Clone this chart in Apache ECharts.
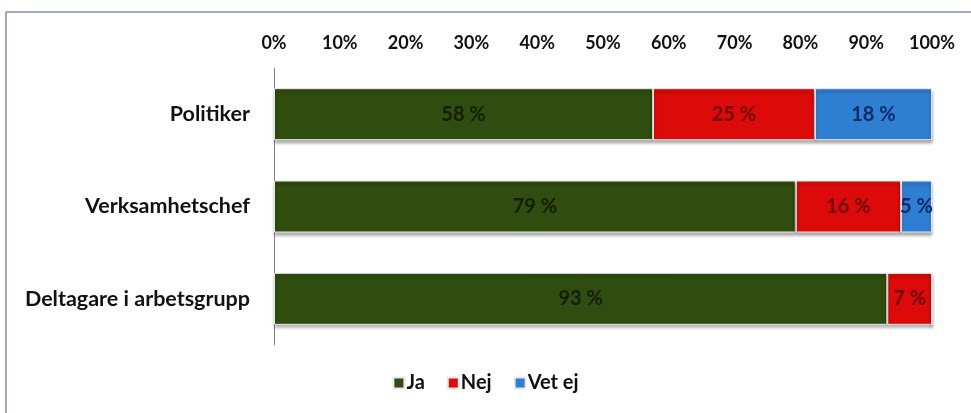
<!DOCTYPE html>
<html>
<head>
<meta charset="utf-8">
<script src="https://cdn.jsdelivr.net/npm/echarts@6/dist/echarts.min.js"></script>
<style>html,body{margin:0;padding:0;background:#fff}#c{width:971px;height:413px}</style>
</head>
<body>
<div id="c"></div>
<script>
const categories = ['Politiker', 'Verksamhetschef', 'Deltagare i arbetsgrupp'];
const ja = [57.6, 79.3, 93.2];
const nej = [24.6, 16.0, 6.8];
const vetEj = [17.8, 4.7, 0];
const seriesNames = ['Ja', 'Nej', 'Vet ej'];
const xTicks = [0, 10, 20, 30, 40, 50, 60, 70, 80, 90, 100];

const FONT = 'Lato';
const colors = ['#2f4d0f', '#dd0a0a', '#2e7fd2'];
const labelColors = ['#141d06', '#6e0404', '#0c2a66'];

function mkSeries(name, data, i) {
  return {
    name: name,
    type: 'bar',
    stack: 'total',
    barWidth: 52,
    data: data,
    itemStyle: {
      color: colors[i],
      borderColor: '#e8e8e8',
      borderWidth: 1,
      shadowColor: 'rgba(0,0,0,0.35)',
      shadowBlur: 3,
      shadowOffsetY: 3
    },
    label: {
      show: true,
      position: 'inside',
      formatter: p => p.value > 0 ? Math.round(p.value) + ' %' : '',
      color: labelColors[i],
      fontFamily: FONT,
      fontWeight: 'bold',
      fontSize: 20
    }
  };
}

const chart = echarts.init(document.getElementById('c'));
chart.setOption({
  animation: false,
  backgroundColor: '#fff',
  grid: { left: 274, right: 39, top: 68, bottom: 68, containLabel: false },
  xAxis: {
    type: 'value',
    position: 'top',
    min: 0, max: 100, interval: 10,
    axisLine: { show: false },
    axisTick: { show: false },
    splitLine: { show: false },
    axisLabel: {
      formatter: v => xTicks.includes(v) ? v + '%' : '',
      color: '#111',
      fontFamily: FONT,
      fontWeight: 'bold',
      fontSize: 18,
      margin: 16
    }
  },
  yAxis: {
    type: 'category',
    data: categories,
    inverse: true,
    axisLine: { show: true, lineStyle: { color: '#7a8290', width: 1 } },
    axisTick: { show: false },
    axisLabel: {
      color: '#111',
      fontFamily: FONT,
      fontWeight: 'bold',
      fontSize: 21.5,
      margin: 24
    }
  },
  legend: {
    bottom: 15,
    left: 'center',
    itemWidth: 11,
    itemHeight: 11,
    itemGap: 22,
    icon: 'rect',
    textStyle: { fontFamily: FONT, fontWeight: 'bold', fontSize: 20, color: '#111', padding: [0, 0, 0, -3] },
    data: seriesNames
  },
  graphic: [
    { type: 'line', shape: { x1: 6, y1: 12, x2: 971, y2: 12 }, style: { stroke: '#7f8ea6', lineWidth: 1.5 } },
    { type: 'line', shape: { x1: 6, y1: 12, x2: 6, y2: 413 }, style: { stroke: '#7f8ea6', lineWidth: 1.5 } }
  ],
  series: [
    mkSeries(seriesNames[0], ja, 0),
    mkSeries(seriesNames[1], nej, 1),
    mkSeries(seriesNames[2], vetEj, 2)
  ]
});
</script>
</body>
</html>
